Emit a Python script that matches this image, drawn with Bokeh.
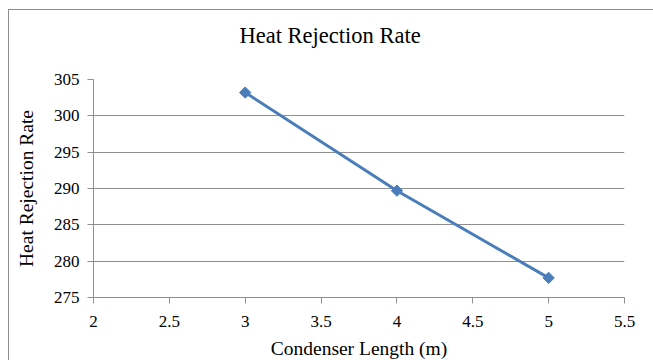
from bokeh.plotting import figure
from bokeh.models import Range1d, FixedTicker, Title
from bokeh.embed import file_html
from bokeh.resources import INLINE
import math

# Data
condenser_length = [3, 4, 5]
heat_rejection = [303.2, 289.7, 277.7]
x_ticks = [2, 2.5, 3, 3.5, 4, 4.5, 5, 5.5]
y_ticks = [275, 280, 285, 290, 295, 300, 305]

FONT = "Liberation Serif"
GRAY = "#8f8f8f"
BLUE = "#4A7EBB"

p = figure(width=645, height=351, output_backend="svg", toolbar_location=None,
           x_range=Range1d(2, 5.5), y_range=Range1d(275, 305),
           min_border_left=84, min_border_right=30,
           min_border_top=69, min_border_bottom=63,
           title="Heat Rejection Rate")
p.margin = (9, 0, 0, 8)
p.styles = {"border-top": "1px solid #8c8c8c", "border-left": "1px solid #8c8c8c"}
p.background_fill_color = "white"
p.border_fill_color = "white"
p.outline_line_color = None

p.title.align = "left"
p.title.offset = 146
p.title.text_font = FONT
p.title.text_font_size = "22.5px"
p.title.text_font_style = "normal"
p.title.text_color = "black"
p.title.standoff = 0

# spacer between the title and the plot area
spacer = Title(text=" ", text_font=FONT, text_font_size="14px", standoff=15)
p.add_layout(spacer, "above")

for axes in (p.xaxis, p.yaxis):
    axes.axis_line_color = GRAY
    axes.major_tick_line_color = GRAY
    axes.minor_tick_line_color = None
    axes.major_tick_out = 6
    axes.major_tick_in = 0
    axes.major_label_text_font = FONT
    axes.major_label_text_font_size = "17px"
    axes.major_label_text_font_style = "normal"
    axes.major_label_text_color = "black"
    axes.axis_label_text_font = FONT
    axes.axis_label_text_font_size = "19.5px"
    axes.axis_label_text_font_style = "normal"
    axes.axis_label_text_color = "black"

p.xaxis.ticker = FixedTicker(ticks=x_ticks)
p.yaxis.ticker = FixedTicker(ticks=y_ticks)
p.xaxis.axis_label = "Condenser Length (m)"
p.yaxis.axis_label = "Heat Rejection Rate"
p.xaxis.major_label_standoff = 12
p.xaxis.axis_label_standoff = 8
p.yaxis.major_label_standoff = 8
p.yaxis.axis_label_standoff = 14

p.xgrid.grid_line_color = None
p.ygrid.grid_line_color = GRAY
p.ygrid.grid_line_width = 1

p.line(condenser_length, heat_rejection, line_color=BLUE, line_width=3)
p.scatter(condenser_length, heat_rejection, marker="square", angle=math.pi / 4,
          size=8, fill_color=BLUE, line_color=BLUE)

open("out.html", "w").write(file_html(p, INLINE))
